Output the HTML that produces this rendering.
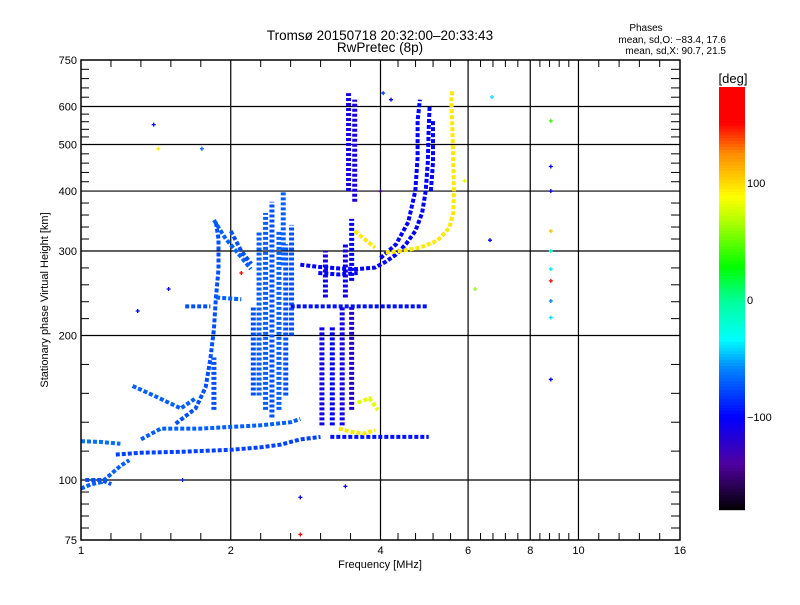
<!DOCTYPE html>
<html><head><meta charset="utf-8">
<style>
body{margin:0;background:#fff;}
svg text{font-family:"Liberation Sans","DejaVu Sans",sans-serif;fill:#000;}
</style></head>
<body>
<svg id="chart" width="800" height="600" viewBox="0 0 800 600" xmlns="http://www.w3.org/2000/svg">
<rect x="0" y="0" width="800" height="600" fill="#fff"/>
<text x="380" y="40" font-size="13.5" text-anchor="middle">Tromsø 20150718 20:32:00–20:33:43</text>
<text x="380" y="52" font-size="13.5" text-anchor="middle">RwPretec (8p)</text>
<text x="646" y="31" font-size="10" text-anchor="middle">Phases</text>
<text x="726" y="43" font-size="10" text-anchor="end">mean, sd,O: −83.4, 17.6</text>
<text x="726" y="54" font-size="10" text-anchor="end">mean, sd,X:  90.7, 21.5</text>
<text x="380" y="568" font-size="11" text-anchor="middle">Frequency [MHz]</text>
<text x="48" y="300" font-size="11" text-anchor="middle" transform="rotate(-90 48 300)">Stationary phase Virtual Height [km]</text>
<g id="grid"></g>
<g id="marks"></g>
<rect x="81" y="60" width="599" height="480" fill="none" stroke="#000" stroke-width="1.5"/>
<g id="axes"></g>
<g id="cbar"></g>
<text x="733" y="83" font-size="13" text-anchor="middle">[deg]</text>
</svg>
<script>
const NS="http://www.w3.org/2000/svg";
// ---- data ----
const xTicks=[1,2,4,6,8,10,16];
const xGrid=[2,4,6,8,10];
const yTicks=[75,100,200,300,400,500,600,750];
const yGrid=[100,200,300,400,500,600];
const cbTicks=[100,0,-100];
// traces: [f MHz, h km] pairs + phase deg
const traceE1=[[1.0,96],[1.05,98],[1.1,99],[1.15,103],[1.2,107],[1.25,110]];
const traceE2=[[1.02,100],[1.1,100],[1.15,98]];
const traceLowF=[[1.175,113],[1.32,114],[1.587,114.5],[2,115.6],[2.3,117],[2.52,118.5],[2.76,121.5],[3.03,123]];
const traceLeft=[[1.0,120.5],[1.1,120],[1.2,119]];
const traceUpper=[[1.32,121.5],[1.447,128],[1.741,128],[2,129],[2.3,130],[2.64,132],[2.76,134]];
const traceBase=[[3.17,123],[3.6,123],[4,123],[4.5,123],[5.0,123]];
const traceRise=[[1.55,131],[1.70,141],[1.78,156],[1.82,179],[1.85,206],[1.866,238],[1.89,275],[1.89,318],[1.866,345]];
const traceDiag=[[1.27,157],[1.4,150],[1.587,141],[1.7,148]];
const traceCusp=[[1.85,348],[1.955,318],[2.095,292],[2.195,275]];
const traceCusp2=[[2.0,330],[2.1,300],[2.2,282]];
const traceF1a=[[1.62,230],[1.82,230]];
const traceF1b=[[1.87,240],[2.1,238]];
const traceF1c=[[2.64,230],[3,230],[3.5,230],[4,230],[4.5,230],[5.0,230]];
const traceF2=[[2.76,281],[3.0,278],[3.3,276],[3.6,275],[3.9,277],[4.1,285],[4.3,295],[4.5,310],[4.7,330],[4.85,360],[4.93,400],[4.98,460],[5.0,540],[5.02,600]];
const traceF2b=[[3.0,270],[3.3,268],[3.6,270]];
const traceO2=[[4.0,290],[4.3,310],[4.55,345],[4.7,400],[4.75,470],[4.75,560],[4.8,620]];
const traceO3=[[5.05,400],[5.1,460],[5.1,560]];
const traceX=[[4.1,298],[4.4,300],[4.8,305],[5.2,315],[5.5,335],[5.6,360],[5.62,400],[5.6,460],[5.58,540],[5.55,620],[5.58,650]];
const traceXa=[[3.3,128],[3.5,126],[3.7,125],[3.9,127]];
const traceXb=[[3.6,145],[3.8,148],[3.95,140]];
const traceXc=[[3.55,330],[3.75,315],[3.9,305]];
const traces=[traceE1,traceE2,traceLowF,traceLeft,traceUpper,traceBase,traceRise,traceDiag,traceCusp,traceCusp2,traceF1a,traceF1b,traceF1c,traceF2,traceF2b,traceO2,traceO3,traceX,traceXa,traceXb,traceXc];
const tracePhase=[-70,-75,-80,-65,-70,-95,-75,-70,-70,-75,-75,-70,-95,-100,-100,-100,-100,95,95,80,95];
// columns: f, h-bottom, h-top, phase
const colF=[2.22,2.28,2.35,2.42,2.5,2.58,2.65,2.55,1.85,3.05,3.2,3.35,3.5,3.1,3.4,3.5,3.45,3.55];
const colH1=[150,150,140,135,140,150,200,280,140,130,130,130,140,240,240,260,400,380];
const colH2=[230,330,360,380,330,310,340,400,180,210,210,230,230,300,310,350,640,620];
const colP=[-75,-70,-70,-75,-70,-75,-75,-70,-75,-110,-100,-110,-120,-110,-110,-100,-110,-115];
// scattered points
const ptF=[8.8,8.8,8.8,8.8,8.8,8.8,8.8,8.8,8.8,8.8,1.4,1.43,2.76,2.76,3.4,4,6.64,6.7,4.05,4.2,1.75,2.1,6.2,5.9,1.3,1.5,1.6];
const ptH=[560,450,400,330,300,275,260,236,218,162,550,490,77,92,97,400,316,628,640,620,490,270,250,420,225,250,100];
const ptP=[40,-100,-100,110,-20,-40,150,-60,-40,-100,-100,95,160,-100,-110,-150,-100,-40,-80,-100,-70,150,60,80,-100,-100,-90];

// ---- scales ----
const X0=81,X1=680,Y0=60,Y1=540;
function xs(f){return X0+(X1-X0)*Math.log2(f)/4;}
function ys(h){return Y1-(Y1-Y0)*Math.log10(h/75);}
const cbTop=87,cbBot=510;
function cy(p){return 300-1.17*p;}
const stops=[[-180,[0,0,0]],[-140,[80,0,160]],[-100,[0,0,255]],[-60,[0,128,255]],[-34,[0,255,255]],[0,[0,255,150]],[28,[0,255,0]],[68,[180,255,0]],[88,[255,255,0]],[125,[255,140,0]],[151,[255,0,0]],[180,[255,0,0]]];
function col(p){
  for(let i=0;i<stops.length-1;i++){
    const a=stops[i],b=stops[i+1];
    if(p<=b[0]){const t=Math.max(0,(p-a[0])/(b[0]-a[0]));
      const c=a[1].map((v,k)=>Math.round(v+(b[1][k]-v)*t));return `rgb(${c[0]},${c[1]},${c[2]})`;}
  }
  return 'rgb(255,0,0)';
}
function mk(tag,attrs,parent){const e=document.createElementNS(NS,tag);for(const k in attrs)e.setAttribute(k,attrs[k]);parent.appendChild(e);return e;}
const grid=document.getElementById('grid'),marks=document.getElementById('marks'),axes=document.getElementById('axes'),cbar=document.getElementById('cbar');

xGrid.forEach(f=>{const l=mk('line',{x1:xs(f),x2:xs(f),y1:Y0,y2:Y1,stroke:'#000','stroke-width':1.2},grid);

});
yGrid.forEach(h=>{const l=mk('line',{x1:X0,x2:X1,y1:ys(h),y2:ys(h),stroke:'#000','stroke-width':1.2},grid);

});

// x ticks & minor ticks
xTicks.forEach((f,i)=>{
  const t=mk('text',{x:xs(f),y:554,'font-size':11,'text-anchor':'middle'},axes);t.textContent=f;
  
  
  if(i<xTicks.length-1){const a=xs(f),b=xs(xTicks[i+1]);
    for(let k=1;k<5;k++){const x=a+(b-a)*k/5;
      mk('line',{x1:x,x2:x,y1:Y0,y2:Y0+7,stroke:'#000'},axes);
      mk('line',{x1:x,x2:x,y1:Y1,y2:Y1-7,stroke:'#000'},axes);}}
});
yTicks.forEach((h,i)=>{
  const t=mk('text',{x:77,y:ys(h)+4,'font-size':11,'text-anchor':'end'},axes);t.textContent=h;
  
  
  if(i<yTicks.length-1){const a=ys(h),b=ys(yTicks[i+1]);
    for(let k=1;k<5;k++){const y=a+(b-a)*k/5;
      mk('line',{x1:X0,x2:X0+8,y1:y,y2:y,stroke:'#000'},axes);
      mk('line',{x1:X1,x2:X1-9,y1:y,y2:y,stroke:'#000'},axes);}}
});

// columns
colF.forEach((f,i)=>{const l=mk('line',{x1:xs(f),x2:xs(f),y1:ys(colH1[i]),y2:ys(colH2[i]),stroke:col(colP[i]),'stroke-width':5,'stroke-dasharray':'3 2'},marks);

});
// traces
traces.forEach((tr,i)=>{const pts=tr.map(d=>xs(d[0]).toFixed(1)+','+ys(d[1]).toFixed(1)).join(' ');
const l=mk('polyline',{points:pts,fill:'none',stroke:col(tracePhase[i]),'stroke-width':4,'stroke-dasharray':'4 2'},marks);

});
// points
ptF.forEach((f,i)=>{const x=xs(f),y=ys(ptH[i]);
const p=mk('path',{d:`M${x-2},${y}H${x+2}M${x},${y-2}V${y+2}`,stroke:col(ptP[i]),'stroke-width':1.3},marks);

});

// colorbar
for(let y=cbTop;y<cbBot;y+=3){const p=(300-y-1.5)/1.17;
  mk('rect',{x:719,y:y,width:26,height:3.2,fill:col(p)},cbar);}
cbTicks.forEach(v=>{const t=mk('text',{x:747,y:cy(v)+4,'font-size':11},cbar);t.textContent=v===-100?'−100':v;

});


</script>
</body></html>
